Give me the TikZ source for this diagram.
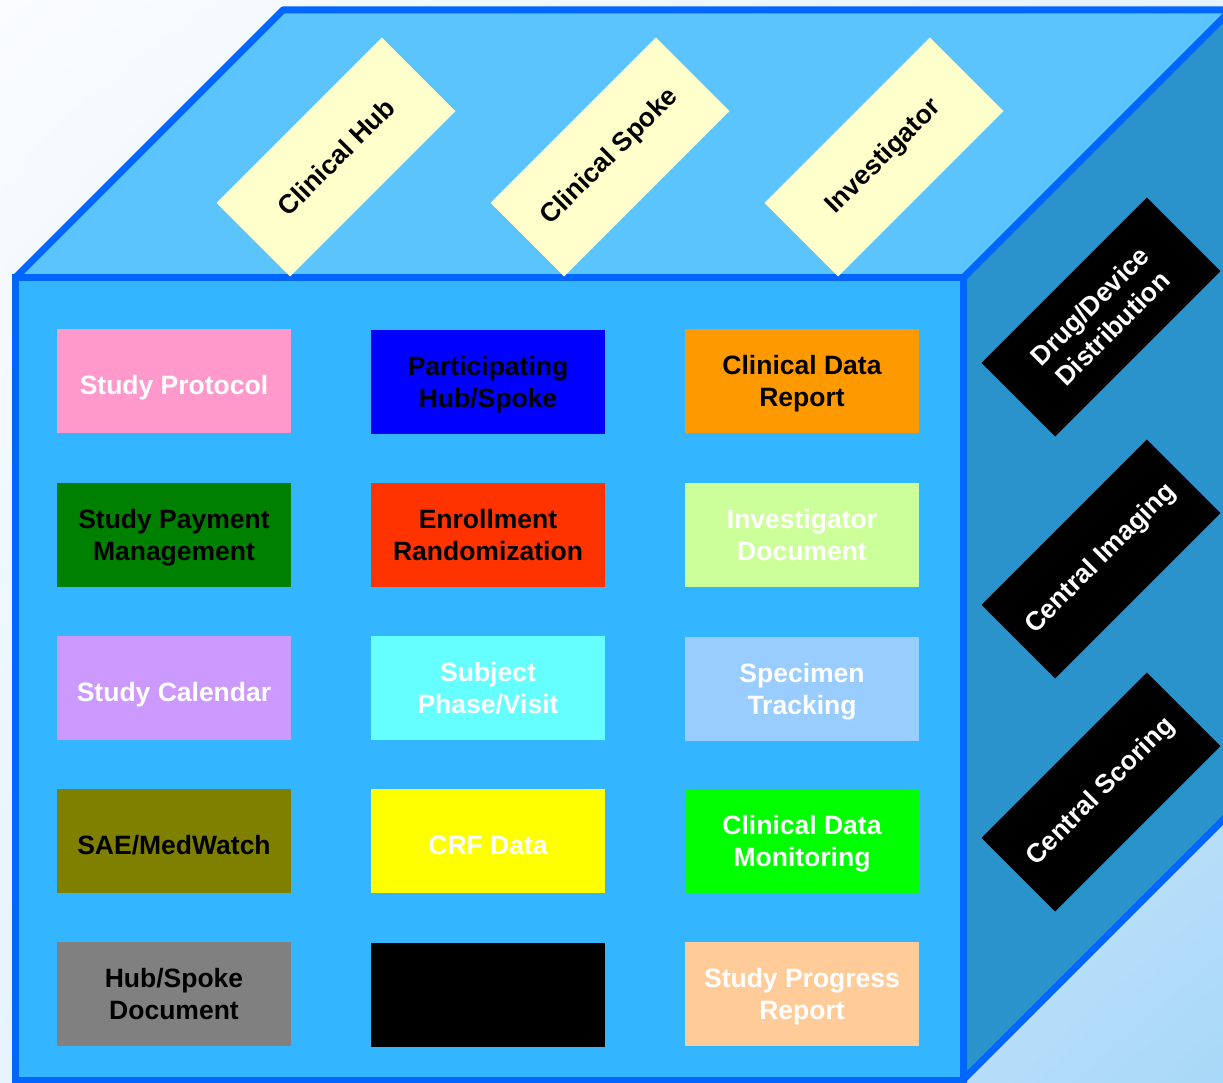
\documentclass[tikz,border=0pt]{standalone}
\usepackage{fontspec}
\setmainfont{Liberation Sans}
\usetikzlibrary{shadings}
\begin{document}
\begin{tikzpicture}[x=1pt,y=-1pt,
  facel/.style={draw=edgeblue,line width=7pt,line join=miter},
  cell/.style={minimum width=234pt,minimum height=104pt,inner sep=0pt,align=center,
    font=\fontsize{26.5}{32}\selectfont\bfseries},
  one/.style={cell,text depth=2pt,text height=29pt},
  toplabel/.style={cell,fill=cream,text=black,rotate=45},
  sidelabel/.style={cell,fill=black,text=white,rotate=45}]
\definecolor{edgeblue}{HTML}{0066FF}
\definecolor{topface}{HTML}{5BC4FC}
\definecolor{frontface}{HTML}{33B5FF}
\definecolor{sideface}{HTML}{2A93CC}
\definecolor{cream}{HTML}{FFFFCC}
\definecolor{bgA}{HTML}{FAFCFF}
\definecolor{bgB}{HTML}{E6F2FD}
\definecolor{bgC}{HTML}{A8D8F8}
\definecolor{cPink}{HTML}{FF99CC}
\definecolor{cBlue}{HTML}{0000FF}
\definecolor{cOrange}{HTML}{FF9900}
\definecolor{cDGreen}{HTML}{008000}
\definecolor{cRed}{HTML}{FF3300}
\definecolor{cLGreen}{HTML}{CCFF99}
\definecolor{cLav}{HTML}{CC99FF}
\definecolor{cCyan}{HTML}{66FFFF}
\definecolor{cLBlue}{HTML}{99CCFF}
\definecolor{cOlive}{HTML}{808000}
\definecolor{cYellow}{HTML}{FFFF00}
\definecolor{cGreen}{HTML}{00FF00}
\definecolor{cGray}{HTML}{808080}
\definecolor{cPeach}{HTML}{FFCC99}
\useasboundingbox (0,0) rectangle (1223,1083);
\clip (0,0) rectangle (1223,1083);
% background
\shade[upper left=bgA,upper right=bgB,lower left=bgB,lower right=bgC] (0,0) rectangle (1223,1083);
% cube faces
\draw[facel,fill=sideface] (963,278) -- (1231,10) -- (1231,812) -- (963,1080) -- cycle;
\draw[facel,line join=bevel,fill=topface] (15,278) -- (283,10) -- (1231,10) -- (963,278) -- cycle;
\draw[facel,fill=frontface] (15,278) rectangle (963,1080);
% top labels
\node[toplabel] (hub) at (336,157) {Clinical Hub};
\node[toplabel] (spoke) at (610,157) {Clinical Spoke};
\node[toplabel] (inv) at (884,157) {Investigator};
% side labels
\node[sidelabel] (drug) at (1101,317) {Drug/Device\\Distribution};
\node[sidelabel] (imaging) at (1101,559) {Central Imaging};
\node[sidelabel] (scoring) at (1101,792) {Central Scoring};
% front cells
\node[one,fill=cPink,text=white] (sp) at (174,381) {Study Protocol};
\node[cell,fill=cBlue,text=black] (php) at (488,382) {Participating\\\smash{Hub/Spoke}};
\node[cell,fill=cOrange,text=black] (cdr) at (802,381) {Clinical Data\\\smash{Report}};
\node[cell,fill=cDGreen,text=black] (spm) at (174,535) {Study Payment\\\smash{Management}};
\node[cell,fill=cRed,text=black] (er) at (488,535) {Enrollment\\\smash{Randomization}};
\node[cell,fill=cLGreen,text=white] (id) at (802,535) {Investigator\\\smash{Document}};
\node[one,fill=cLav,text=white] (sc) at (174,688) {Study Calendar};
\node[cell,fill=cCyan,text=white] (spv) at (488,688) {Subject\\\smash{Phase/Visit}};
\node[cell,fill=cLBlue,text=white] (st) at (802,689) {Specimen\\\smash{Tracking}};
\node[one,fill=cOlive,text=black] (sae) at (174,841) {SAE/MedWatch};
\node[one,fill=cYellow,text=white] (crf) at (488,841) {CRF Data};
\node[cell,fill=cGreen,text=white] (cdm) at (802,841) {Clinical Data\\\smash{Monitoring}};
\node[cell,fill=cGray,text=black] (hsd) at (174,994) {Hub/Spoke\\\smash{Document}};
\node[cell,fill=black] (blank) at (488,995) {};
\node[cell,fill=cPeach,text=white] (spr) at (802,994) {Study Progress\\\smash{Report}};
\end{tikzpicture}
\end{document}
